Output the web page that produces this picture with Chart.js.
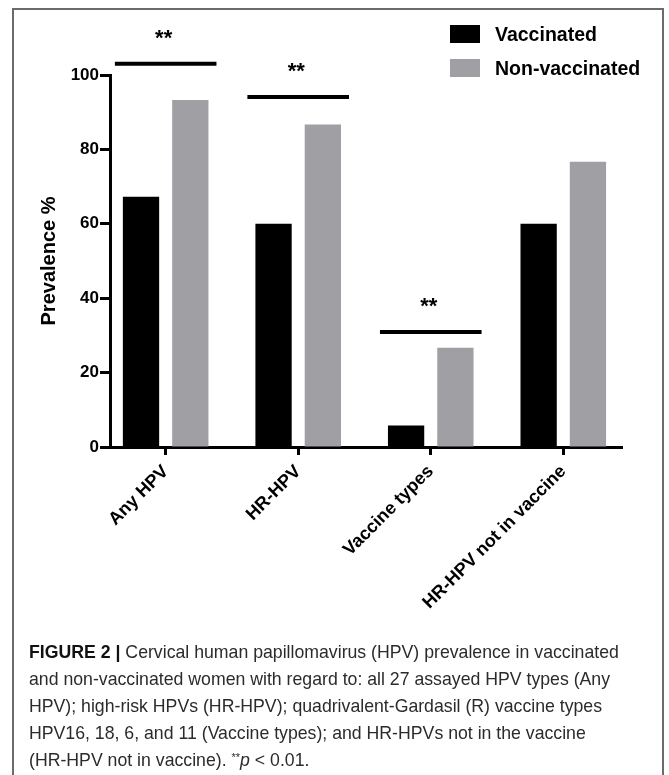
<!DOCTYPE html>
<html>
<head>
<meta charset="utf-8">
<title>HPV prevalence</title>
<script src="https://cdn.jsdelivr.net/npm/chart.js@4.4.1/dist/chart.umd.min.js"></script>
<style>
  body { margin: 0; width: 669px; height: 775px; overflow: hidden; position: relative; background: #fff;
         font-family: "Liberation Sans", Arial, Helvetica, sans-serif; }
  #frame { position: absolute; left: 12px; top: 8px; width: 652px; height: 800px; box-sizing: border-box;
           border: 2px solid #6b6b6b; border-bottom: none; }
  #chartBox { position: absolute; left: 0; top: 0; width: 669px; height: 640px; }
  #legend { position: absolute; left: 450px; top: 17px; }
  .legend-item { height: 34px; display: flex; align-items: center; font-weight: bold; font-size: 19.5px; color: #000; }
  .legend-swatch { width: 30px; height: 18px; margin-right: 15px; }
  #caption { position: absolute; left: 29px; top: 639px; font-size: 17.7px; line-height: 27px; color: #2b2b2b;
             white-space: nowrap; }
  #caption b { color: #111; }
  #caption sup { font-size: 11px; vertical-align: 5px; line-height: 0; }
</style>
</head>
<body>
<div id="frame"></div>
<div id="chartBox"><canvas id="hpvChart" width="669" height="640"></canvas></div>
<div id="legend"></div>
<div id="caption">
  <b>FIGURE 2 |</b> Cervical human papillomavirus (HPV) prevalence in vaccinated<br>
  and non-vaccinated women with regard to: all 27 assayed HPV types (Any<br>
  HPV); high-risk HPVs (HR-HPV); quadrivalent-Gardasil (R) vaccine types<br>
  HPV16, 18, 6, and 11 (Vaccine types); and HR-HPVs not in the vaccine<br>
  (HR-HPV not in vaccine). <sup>**</sup><i>p</i> &lt; 0.01.
</div>
<script>
// Prevalence %
var categories = ['Any HPV', 'HR-HPV', 'Vaccine types', 'HR-HPV not in vaccine'];
var vaccinated = [67.3, 60, 5.8, 60];
var nonVaccinated = [93.3, 86.7, 26.7, 76.7];
var yTicks = [0, 20, 40, 60, 80, 100];

// significance brackets: category index, height (in % units) and label
var sigCategory = [0, 1, 2];
var sigLevel = [103, 94.1, 30.9];
var sigLabel = ['**', '**', '**'];

var seriesNames = ['Vaccinated', 'Non-vaccinated'];
var seriesColors = ['#000000', '#a09fa4'];

function toPoints(values) {
  var pts = [];
  for (var i = 0; i < values.length; i++) {
    pts.push({ x: i, y: values[i] });
  }
  return pts;
}

function buildLegend() {
  var box = document.getElementById('legend');
  for (var i = 0; i < seriesNames.length; i++) {
    var item = document.createElement('div');
    item.className = 'legend-item';
    var sw = document.createElement('span');
    sw.className = 'legend-swatch';
    sw.style.background = seriesColors[i];
    var txt = document.createElement('span');
    txt.textContent = seriesNames[i];
    item.appendChild(sw);
    item.appendChild(txt);
    box.appendChild(item);
  }
}

// draws the ** brackets over the bar pairs
var sigPlugin = {
  id: 'sigBars',
  afterDraw: function(chart) {
    var ctx = chart.ctx;
    var ys = chart.scales.y;
    var m0 = chart.getDatasetMeta(0);
    var m1 = chart.getDatasetMeta(1);
    ctx.save();
    for (var k = 0; k < sigCategory.length; k++) {
      var b0 = m0.data[sigCategory[k]];
      var b1 = m1.data[sigCategory[k]];
      var left = b0.x - b0.width / 2 - 8;
      var right = b1.x + b1.width / 2 + 8;
      var y = ys.getPixelForValue(sigLevel[k]);
      ctx.strokeStyle = '#000';
      ctx.lineWidth = 4;
      ctx.beginPath();
      ctx.moveTo(left, y);
      ctx.lineTo(right, y);
      ctx.stroke();
      ctx.fillStyle = '#000';
      ctx.font = 'bold 22px "Liberation Sans", Arial, sans-serif';
      ctx.textAlign = 'center';
      ctx.textBaseline = 'alphabetic';
      ctx.fillText(sigLabel[k], (left + right) / 2 - 2, y - 19);
    }
    ctx.restore();
  }
};

function drawChart() {
  var ctx = document.getElementById('hpvChart');
  new Chart(ctx, {
    type: 'bar',
    data: {
      datasets: [{
        label: seriesNames[0],
        data: toPoints(vaccinated),
        backgroundColor: seriesColors[0],
        borderWidth: 0,
        categoryPercentage: 0.744,
        barPercentage: 0.736
      }, {
        label: seriesNames[1],
        data: toPoints(nonVaccinated),
        backgroundColor: seriesColors[1],
        borderWidth: 0,
        categoryPercentage: 0.744,
        barPercentage: 0.736
      }]
    },
    options: {
      responsive: false,
      animation: false,
      layout: { padding: { left: 0, right: 47, top: 75, bottom: 0 } },
      plugins: {
        legend: { display: false },
        tooltip: { enabled: false }
      },
      scales: {
        x: {
          type: 'linear',
          offset: false,
          min: -0.42,
          max: 3.443,
          afterBuildTicks: function(scale) {
            scale.ticks = scale.ticks.filter(function(t) {
              return Math.abs(t.value - Math.round(t.value)) < 1e-6 && t.value >= 0 && t.value < categories.length;
            });
          },
          afterFit: function(scale) {
            scale.height = 193;
            scale.paddingLeft = 0;
            scale.paddingRight = 0;
          },
          border: { display: true, color: '#000', width: 3 },
          grid: { offset: false, drawOnChartArea: false, drawTicks: true, tickLength: 8, tickWidth: 3, tickColor: '#000' },
          ticks: {
            stepSize: 1,
            autoSkip: false,
            minRotation: 45,
            maxRotation: 45,
            padding: 6,
            color: '#000',
            font: { family: '"Liberation Sans", Arial, sans-serif', size: 18, weight: 'bold' },
            callback: function(value) { return categories[value]; }
          }
        },
        y: {
          min: yTicks[0],
          max: yTicks[yTicks.length - 1],
          afterBuildTicks: function(scale) {
            scale.ticks = yTicks.map(function(v) { return { value: v }; });
          },
          afterFit: function(scale) {
            scale.width = 110;
            scale.paddingTop = 0;
            scale.paddingBottom = 0;
          },
          border: { display: true, color: '#000', width: 3 },
          grid: { drawOnChartArea: false, drawTicks: true, tickLength: 10, tickWidth: 3, tickColor: '#000' },
          ticks: {
            padding: 1,
            color: '#000',
            font: { family: '"Liberation Sans", Arial, sans-serif', size: 17, weight: 'bold' }
          },
          title: {
            display: true,
            text: 'Prevalence %',
            color: '#000',
            padding: { top: 37, bottom: 0 },
            font: { family: '"Liberation Sans", Arial, sans-serif', size: 20, weight: 'bold' }
          }
        }
      }
    },
    plugins: [sigPlugin]
  });
}

document.addEventListener('DOMContentLoaded', function() {
  buildLegend();
  drawChart();
});
</script>
</body>
</html>
